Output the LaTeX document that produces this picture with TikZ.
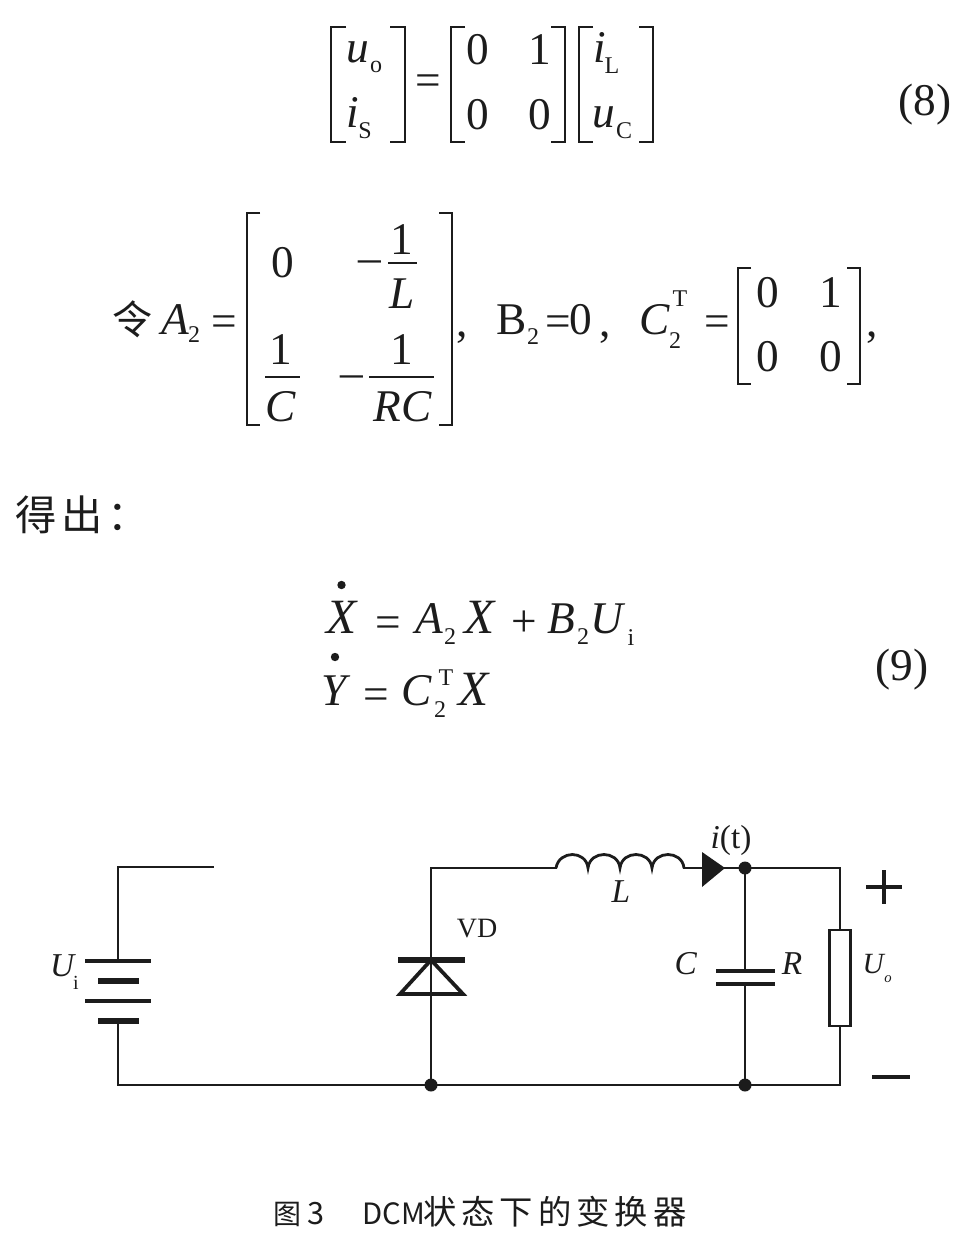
\documentclass[tikz,border=0pt]{standalone}
\usepackage{fontspec}
\setmainfont{Liberation Serif}
\newfontfamily\cjkfont{Noto Sans CJK SC}
\newcommand{\sizeL}{\fontsize{34}{38}\selectfont}
\newcommand{\sizeX}{\fontsize{37}{42}\selectfont}
\newcommand{\sizeS}{\fontsize{18}{22}\selectfont}
\newcommand{\sizeC}{\fontsize{25}{30}\selectfont}
\definecolor{ink}{HTML}{1C1C1C}
\tikzset{
  tl/.style={inner sep=0pt,anchor=base,font=\sizeL,text=ink},
  tx/.style={inner sep=0pt,anchor=base,font=\sizeX,text=ink},
  ts/.style={inner sep=0pt,anchor=base,font=\sizeS,text=ink},
  tc/.style={inner sep=0pt,anchor=base,font=\sizeC,text=ink},
  tz/.style={inner sep=0pt,anchor=base west,text=ink},
  wire/.style={draw=ink,line width=2.1pt,line cap=rect,line join=miter},
  thin plate/.style={draw=ink,line width=2.3pt},
  thick plate/.style={draw=ink,line width=4.4pt},
  brk/.style={draw=ink,line width=1.8pt},
  bar/.style={draw=ink,line width=1.7pt},
  junction/.style={circle,fill=ink,inner sep=0pt,minimum size=9.75pt},
}
\begin{document}
\begin{tikzpicture}[x=0.75pt,y=-0.75pt]
\useasboundingbox (0,0) rectangle (965,1244);
% Equation 8
\draw[brk] (346,27) -- (331,27) -- (331,142) -- (346,142);
\draw[brk] (390,27) -- (405,27) -- (405,142) -- (390,142);
\node[tl] (e8u) at (358,63) {\textit{u}};
\node[ts] (e8o) at (376,73) {o};
\node[tl] (e8i) at (353,128) {\textit{i}};
\node[ts] (e8s) at (365,139) {S};
\node[tl] (e8eq) at (428,96) {=};
\draw[brk] (465,27) -- (451,27) -- (451,142) -- (465,142);
\draw[brk] (551,27) -- (565,27) -- (565,142) -- (551,142);
\node[tl] (e8a) at (478,65) {0};
\node[tl] (e8b) at (540,65) {1};
\node[tl] (e8c) at (478,130) {0};
\node[tl] (e8d) at (540,130) {0};
\draw[brk] (593,27) -- (579,27) -- (579,142) -- (593,142);
\draw[brk] (639,27) -- (653,27) -- (653,142) -- (639,142);
\node[tl] (e8il) at (600,63) {\textit{i}};
\node[ts] (e8l) at (612,74) {L};
\node[tl] (e8uc) at (604,128) {\textit{u}};
\node[ts] (e8cc) at (624,139) {C};
\node[tl] (e8n) at (925,116) {(8)};
% Definition line
\node[tl,font=\cjkfont\fontsize{30}{34}\selectfont] (ling) at (132,334) {令};
\node[tl] (A) at (175,334) {\textit{A}};
\node[ts] (A2) at (194,342) {2};
\node[tl] (Aeq) at (224,336) {=};
\draw[brk] (260,213) -- (247,213) -- (247,425) -- (260,425);
\draw[brk] (439,213) -- (452,213) -- (452,425) -- (439,425);
\node[tl] (m0) at (283,277) {0};
\node[tl] (mm1) at (370,273) {\textendash};
\node[tl] (n1) at (402,255) {1};
\draw[bar] (388,263) -- (417,263);
\node[tl] (dL) at (402,309) {\textit{L}};
\node[tl] (n2) at (281,364) {1};
\draw[bar] (265,377) -- (300,377);
\node[tl] (dC) at (281,421) {\textit{C}};
\node[tl] (mm2) at (352,387) {\textendash};
\node[tl] (n3) at (402,364) {1};
\draw[bar] (369,377) -- (434,377);
\node[tl] (dRC) at (403,421) {\textit{RC}};
\node[tl] (com1) at (462,336) {,};
\node[tl] (B) at (512,334) {B};
\node[ts] (B2) at (533,344) {2};
\node[tl] (Beq) at (558,336) {=};
\node[tl] (B0) at (581,334) {0};
\node[tl] (Bcom) at (605,336) {,};
\node[tl] (C) at (655,334) {\textit{C}};
\node[ts] (CT) at (680,306) {T};
\node[ts] (C2) at (675,348) {2};
\node[tl] (Ceq) at (717,336) {=};
\draw[brk] (751,268) -- (738,268) -- (738,384) -- (751,384);
\draw[brk] (847,268) -- (860,268) -- (860,384) -- (847,384);
\node[tl] (c0a) at (768,307) {0};
\node[tl] (c0b) at (831,307) {1};
\node[tl] (c0c) at (768,371) {0};
\node[tl] (c0d) at (831,371) {0};
\node[tl] (com2) at (872,336) {,};
% Derived
\node[tz,font=\cjkfont\addfontfeature{LetterSpace=12}\fontsize{31}{34}\selectfont] (de) at (15,530) {得出：};
% Equation 9
\fill[ink] (341.5,585) circle (4.2);
\node[tx] (X) at (342,633) {\textit{X}};
\node[tl] (eq9a) at (388,637) {=};
\node[tl] (A9) at (429,633) {\textit{A}};
\node[ts] (A92) at (450,644) {2};
\node[tx] (X9) at (480,633) {\textit{X}};
\node[tl] (pl9) at (524,636) {+};
\node[tl] (B9) at (561,633) {\textit{B}};
\node[ts] (B92) at (583,644) {2};
\node[tl] (U9) at (608,633) {\textit{U}};
\node[ts] (i9) at (631,645) {i};
\fill[ink] (335,657) circle (4.2);
\node[tl] (Y) at (336,705) {\textit{Y}};
\node[tl] (eq9b) at (376,709) {=};
\node[tl] (C9) at (417,705) {\textit{C}};
\node[ts] (C9T) at (446,685) {T};
\node[ts] (C92) at (440,717) {2};
\node[tx] (X9b) at (474,705) {\textit{X}};
\node[tl] (n9) at (902,680) {(9)};
% Circuit coordinates
\coordinate (tlc) at (118,867);
\coordinate (topend) at (213,867);
\coordinate (batA) at (118,961);
\coordinate (batB) at (118,1021);
\coordinate (blc) at (118,1085);
\node[junction] (j1) at (431,1085) {};
\node[junction] (j2) at (745,868) {};
\node[junction] (j3) at (745,1085) {};
\coordinate (dtop) at (431,868);
\coordinate (dk) at (431,960);
\coordinate (da) at (431,994);
\coordinate (ls) at (556,868);
\coordinate (le) at (684,868);
\coordinate (trc) at (840,868);
\coordinate (brc) at (840,1085);
\coordinate (c1) at (745,971);
\coordinate (c2) at (745,984);
\node[draw=ink,line width=2.1pt,inner sep=0pt,minimum width=16pt,minimum height=72pt] (res) at (840,978) {};
% Wires
\draw[wire] (topend) -- (tlc) -- (batA);
\draw[wire] (batB) -- (blc) -- (j1);
\draw[wire] (j1) -- (j3) -- (brc) -- (res.south);
\draw[wire] (j1) -- (da) -- (dk) -- (dtop) -- (ls);
\draw[wire] (le) -- (j2) -- (trc) -- (res.north);
\draw[wire] (j2) -- (c1);
\draw[wire] (c2) -- (j3);
% Battery
\draw[thin plate] (85,961) -- (151,961);
\draw[thick plate] (98,981) -- (139,981);
\draw[thin plate] (85,1001) -- (151,1001);
\draw[thick plate] (98,1021) -- (139,1021);
% Diode
\draw[thick plate] (398,960) -- (465,960);
\draw[draw=ink,line width=2.8pt,line join=miter] (dk) -- (400,994) -- (463,994) -- cycle;
% Inductor
\draw[wire,line cap=butt] (ls) .. controls (559,850) and (586,850) .. (588,868)
  .. controls (590,850) and (618,850) .. (620,868)
  .. controls (622,850) and (650,850) .. (652,868)
  .. controls (654,850) and (682,850) .. (le);
% Current arrow
\fill[ink] (702,852) -- (725,868) -- (702,887) -- cycle;
% Capacitor
\draw[thin plate] (716,971) -- (775,971);
\draw[thin plate] (716,984) -- (775,984);
% Polarity
\draw[draw=ink,line width=2.5pt] (866,887) -- (902,887);
\draw[draw=ink,line width=2.5pt] (884,870) -- (884,904);
\draw[draw=ink,line width=3pt] (872,1077) -- (910,1077);
% Circuit labels
\node[tc] (lU) at (63,976) {\textit{U}};
\node[ts,font=\fontsize{15}{18}\selectfont] (li) at (76,989) {i};
\node[tc,font=\fontsize{21}{25}\selectfont] (lVD) at (477,937) {VD};
\node[tc] (lL) at (621,902) {\textit{L}};
\node[tc] (lit) at (731,848) {\textit{i}(t)};
\node[tc] (lC) at (686,974) {\textit{C}};
\node[tc] (lR) at (792,974) {\textit{R}};
\node[tc,font=\fontsize{22}{26}\selectfont] (lUo) at (874,973) {\textit{U}};
\node[ts,font=\fontsize{11}{13}\selectfont] (lo) at (888,982) {\textit{o}};
% Caption
\node[tz,font=\cjkfont\fontsize{21}{25}\selectfont] (cap1) at (273,1224) {图};
\node[tz,font=\cjkfont\fontsize{23}{27}\selectfont] (cap2) at (307,1224) {3};
\node[tz,font=\cjkfont\fontsize{22}{27}\selectfont] (cap3) at (362,1224) {DCM};
\node[tz,font=\cjkfont\addfontfeature{LetterSpace=15}\fontsize{25}{27}\selectfont] (cap4) at (423,1224) {状态下的变换器};
\end{tikzpicture}
\end{document}
